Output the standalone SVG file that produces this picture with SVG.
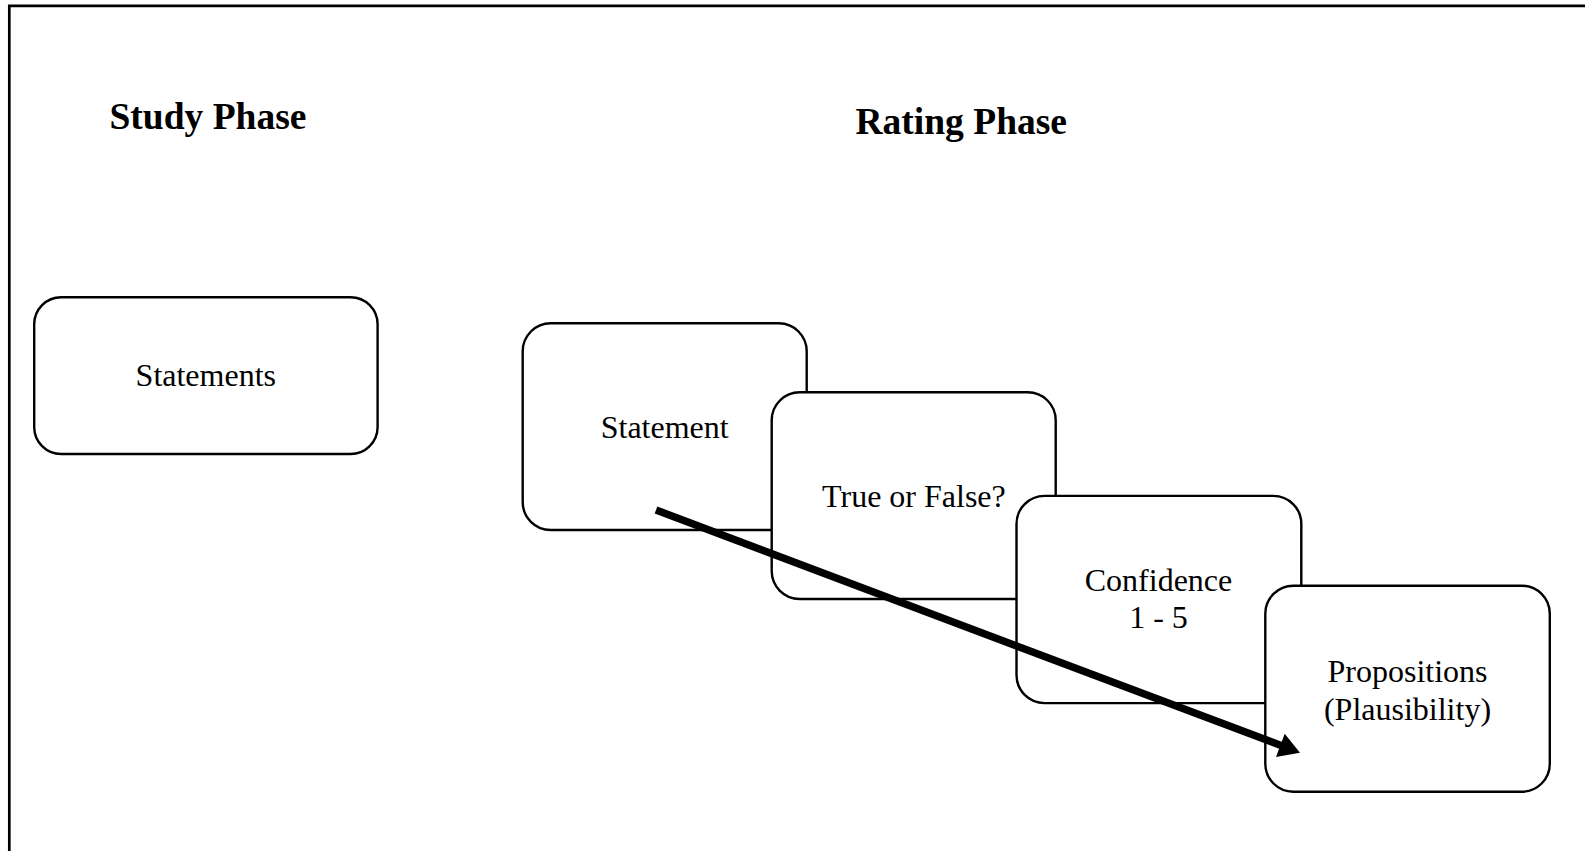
<svg xmlns="http://www.w3.org/2000/svg" width="1585" height="851" viewBox="0 0 1585 851">
<style>
.box{fill:#fff;stroke:#000;stroke-width:2.4}
.lbl{font-family:"Liberation Serif","Times New Roman",serif;font-size:32px;fill:#000;text-anchor:middle}
.head{font-family:"Liberation Serif","Times New Roman",serif;font-size:37.5px;font-weight:bold;fill:#000}
</style>
<rect width="1585" height="851" fill="#fff"/>
<g id="frame">
<path d="M9.3,851 V5.8 H1585" fill="none" stroke="#000" stroke-width="2.7"/>
</g>
<g id="titles">
<text class="head" x="109.5" y="129">Study Phase</text>
<text class="head" x="855.5" y="133.5">Rating Phase</text>
</g>
<g id="n-statements">
<rect class="box" x="34.2" y="297.3" width="343.4" height="156.7" rx="27"/>
<text class="lbl" x="205.8" y="386">Statements</text>
</g>
<g id="n-statement">
<rect class="box" x="522.7" y="323.3" width="284" height="206.7" rx="28"/>
<text class="lbl" x="664.7" y="437.7">Statement</text>
</g>
<g id="n-truefalse">
<rect class="box" x="771.7" y="392.3" width="284" height="206.7" rx="28"/>
<text class="lbl" x="913.9" y="506.7">True or False?</text>
</g>
<g id="n-confidence">
<rect class="box" x="1016.5" y="495.9" width="284.8" height="207.2" rx="28"/>
<text class="lbl" x="1158.5" y="591">Confidence</text>
<text class="lbl" x="1158.5" y="628.3">1 - 5</text>
</g>
<g id="n-propositions">
<rect class="box" x="1265.3" y="585.7" width="284.5" height="206" rx="28"/>
<text class="lbl" x="1407.5" y="681.7">Propositions</text>
<text class="lbl" x="1407.5" y="720">(Plausibility)</text>
</g>
<g id="connectors">
<line x1="656" y1="510" x2="1281" y2="745.5" stroke="#000" stroke-width="7.5"/>
<polygon points="1300,752.7 1276,756.9 1284.7,733.7" fill="#000"/>
</g>
</svg>
